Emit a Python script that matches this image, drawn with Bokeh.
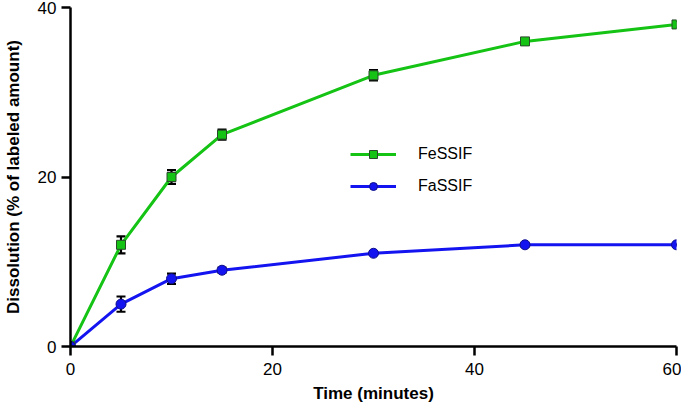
from bokeh.plotting import figure
from bokeh.models import Range1d, FixedTicker, Whisker, TeeHead, ColumnDataSource, Legend, LegendItem
from bokeh.embed import file_html
from bokeh.resources import INLINE

time_min = [0, 5, 10, 15, 30, 45, 60]
fessif = [0, 12, 20, 25, 32, 36, 38]
fessif_err = [0, 1.0, 0.8, 0.6, 0.6, 0.3, 0.4]
fassif = [0, 5, 8, 9, 11, 12, 12]
fassif_err = [0, 0.9, 0.6, 0.3, 0.2, 0.2, 0.1]
x_ticks = [0, 20, 40, 60]
y_ticks = [0, 20, 40]

GREEN = "#14c314"
BLUE = "#1414f0"
FONT = "Liberation Sans"

p = figure(width=681, height=405, output_backend="svg", toolbar_location=None,
           x_range=Range1d(0, 60), y_range=Range1d(0, 40),
           min_border_left=66, min_border_right=5, min_border_top=7, min_border_bottom=59)
p.outline_line_color = None
p.grid.visible = False
p.background_fill_color = "white"
p.border_fill_color = "white"

for ax in (p.xaxis[0], p.yaxis[0]):
    ax.axis_line_width = 2.5
    ax.axis_line_color = "black"
    ax.major_tick_line_width = 2.5
    ax.major_tick_line_color = "black"
    ax.major_tick_out = 9
    ax.major_tick_in = 0
    ax.minor_tick_line_color = None
    ax.major_label_text_font = FONT
    ax.major_label_text_font_size = "17px"
    ax.major_label_text_color = "black"
    ax.axis_label_text_font = FONT
    ax.axis_label_text_font_size = "17px"
    ax.axis_label_text_font_style = "bold"
    ax.axis_label_text_color = "black"

p.xaxis.ticker = FixedTicker(ticks=x_ticks)
p.yaxis.ticker = FixedTicker(ticks=y_ticks)
p.xaxis.axis_label = "Time (minutes)"
p.yaxis.axis_label = "Dissolution (% of labeled amount)"
p.xaxis.major_label_standoff = 7
p.xaxis.axis_label_standoff = 6
p.yaxis.major_label_standoff = 5
p.yaxis.axis_label_standoff = 12

src_fe = ColumnDataSource(dict(x=time_min, y=fessif,
                               lo=[v - e for v, e in zip(fessif, fessif_err)],
                               hi=[v + e for v, e in zip(fessif, fessif_err)]))
src_fa = ColumnDataSource(dict(x=time_min, y=fassif,
                               lo=[v - e for v, e in zip(fassif, fassif_err)],
                               hi=[v + e for v, e in zip(fassif, fassif_err)]))

l_fe = p.line("x", "y", source=src_fe, line_color=GREEN, line_width=3)
l_fa = p.line("x", "y", source=src_fa, line_color=BLUE, line_width=3)

for src in (src_fe, src_fa):
    w = Whisker(base="x", upper="hi", lower="lo", source=src,
                line_color="black", line_width=2.2,
                upper_head=TeeHead(size=9, line_width=2.2, line_color="black"),
                lower_head=TeeHead(size=9, line_width=2.2, line_color="black"))
    p.add_layout(w)

m_fe = p.scatter("x", "y", source=src_fe, marker="square", size=9,
                 fill_color=GREEN, line_color="#2a4a2a", line_width=1)
m_fa = p.scatter("x", "y", source=src_fa, marker="circle", size=10,
                 fill_color=BLUE, line_color="#10108a", line_width=1)

legend = Legend(items=[LegendItem(label="FeSSIF", renderers=[l_fe, m_fe]),
                       LegendItem(label="FaSSIF", renderers=[l_fa, m_fa])],
                location=(280, 150), orientation="vertical",
                glyph_width=46, glyph_height=20, label_height=20,
                label_standoff=22, spacing=12, padding=0, margin=0,
                border_line_color=None, background_fill_alpha=0,
                label_text_font=FONT, label_text_font_size="16px",
                label_text_color="black")
p.add_layout(legend, "center")

open("out.html", "w").write(file_html(p, INLINE))
